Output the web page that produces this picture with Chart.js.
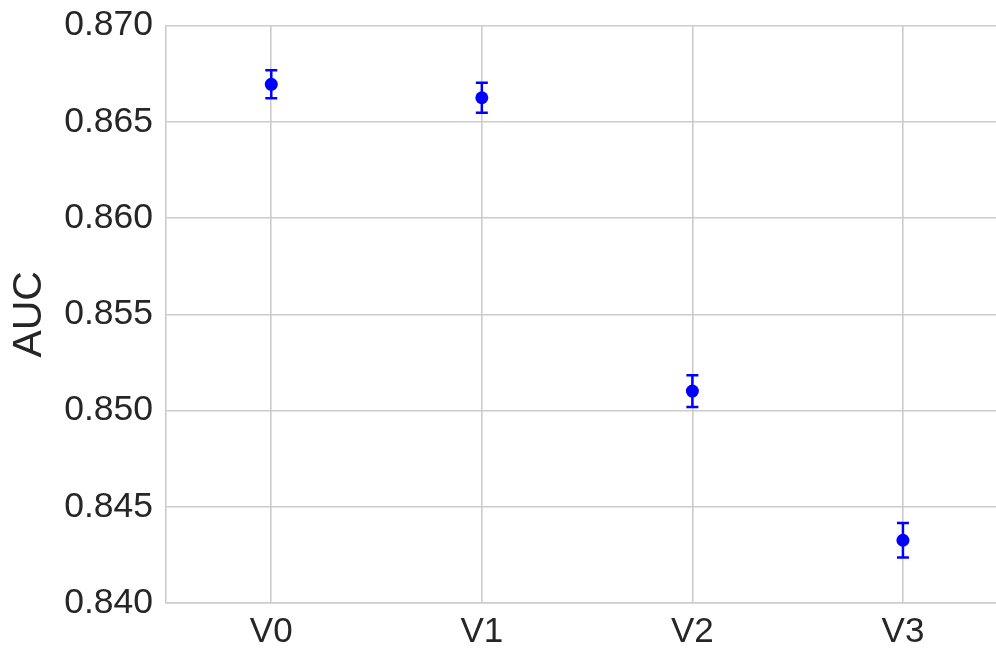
<!DOCTYPE html>
<html>
<head>
<meta charset="utf-8">
<script src="https://cdn.jsdelivr.net/npm/chart.js@4/dist/chart.umd.min.js"></script>
<style>
  html, body { margin: 0; padding: 0; background: #ffffff; }
  #wrap { width: 996px; height: 649px; position: relative; }
</style>
</head>
<body>
<div id="wrap"><canvas id="c" width="996" height="649"></canvas></div>
<script>
// ---- data ----
const categories = ["V0", "V1", "V2", "V3"];
const aucMean = [0.86695, 0.86625, 0.85101, 0.84326];
const aucErr = [0.00073, 0.00078, 0.00082, 0.00090];
const yTicks = [0.840, 0.845, 0.850, 0.855, 0.860, 0.865, 0.870];

const points = categories.map((c, i) => ({ x: i, y: aucMean[i] }));

const errorBars = {
  id: 'errorBars',
  beforeDatasetsDraw(chart) {
    const ctx = chart.ctx;
    const xs = chart.scales.x, ys = chart.scales.y;
    ctx.save();
    ctx.strokeStyle = '#0000ff';
    ctx.lineWidth = 2.5;
    const cap = 6;
    aucMean.forEach((m, i) => {
      const px = xs.getPixelForValue(i);
      const top = ys.getPixelForValue(m + aucErr[i]);
      const bot = ys.getPixelForValue(m - aucErr[i]);
      ctx.beginPath();
      ctx.moveTo(px, top); ctx.lineTo(px, bot);
      ctx.moveTo(px - cap, top); ctx.lineTo(px + cap, top);
      ctx.moveTo(px - cap, bot); ctx.lineTo(px + cap, bot);
      ctx.stroke();
    });
    ctx.restore();
  }
};

new Chart(document.getElementById('c'), {
  type: 'scatter',
  data: {
    datasets: [{
      data: points,
      backgroundColor: '#0000ff',
      borderColor: '#0000ff',
      pointRadius: 6.5,
      pointHoverRadius: 6.5,
      borderWidth: 0,
      showLine: false
    }]
  },
  options: {
    responsive: false,
    animation: false,
    events: [],
    layout: { autoPadding: false, padding: { top: 25.6, right: 0, left: 0, bottom: 0 } },
    plugins: { legend: { display: false }, tooltip: { enabled: false } },
    scales: {
      x: {
        type: 'linear',
        min: -0.5,
        max: 3.442,
        afterBuildTicks(scale) {
          scale.ticks = categories.map((c, i) => ({ value: i }));
        },
        afterFit(scale) {
          scale.height = 46;
          scale.paddingLeft = 0; scale.paddingRight = 0;
        },
        grid: { color: '#cccccc', lineWidth: 1.6, drawTicks: false },
        border: { display: true, color: '#cccccc', width: 1.6 },
        ticks: {
          color: '#262626',
          font: { family: 'Liberation Sans, Arial, sans-serif', size: 35 },
          padding: 8,
          maxRotation: 0,
          autoSkip: false,
          callback: (v) => categories[v] ?? ''
        }
      },
      y: {
        min: 0.840,
        max: 0.870,
        afterBuildTicks(scale) {
          scale.ticks = yTicks.map(v => ({ value: v }));
        },
        afterFit(scale) {
          scale.width = 166;
          scale.paddingTop = 0; scale.paddingBottom = 0;
        },
        grid: { color: '#cccccc', lineWidth: 1.6, drawTicks: false },
        border: { display: true, color: '#cccccc', width: 1.6 },
        title: {
          display: true,
          text: 'AUC',
          color: '#262626',
          font: { family: 'Liberation Sans, Arial, sans-serif', size: 41 },
          padding: { top: 5, bottom: 4 }
        },
        ticks: {
          color: '#262626',
          font: { family: 'Liberation Sans, Arial, sans-serif', size: 35.5 },
          padding: 13,
          callback: (v) => v.toFixed(3)
        }
      }
    }
  },
  plugins: [errorBars]
});
</script>
</body>
</html>
